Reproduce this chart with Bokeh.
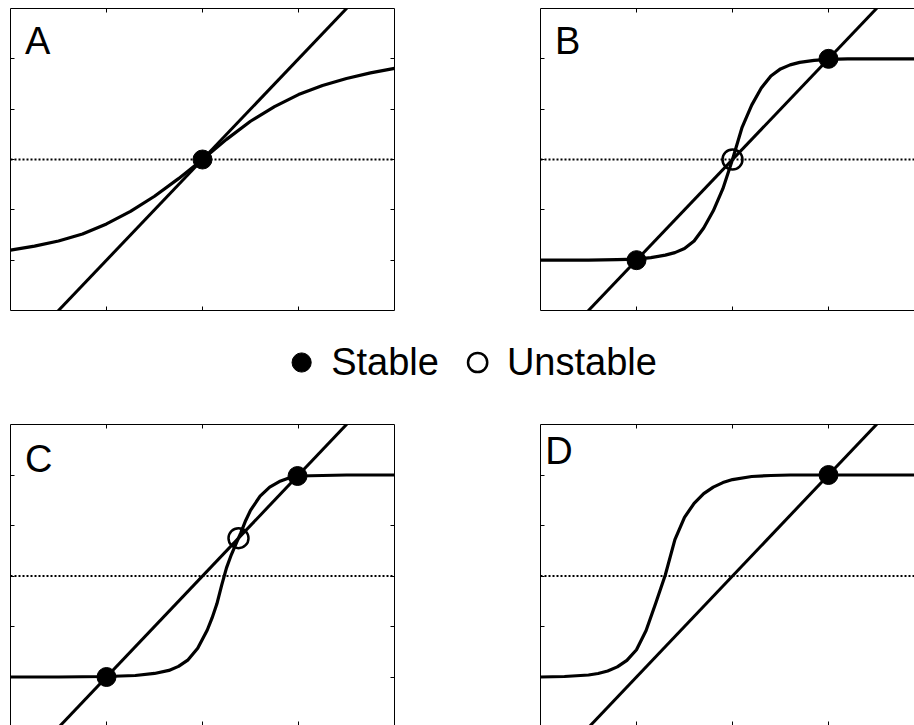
from bokeh.plotting import figure
from bokeh.models import (Range1d, LinearAxis, FixedTicker, Span, Label,
                          Legend, LegendItem, Spacer)
from bokeh.layouts import column, row
from bokeh.embed import file_html
from bokeh.resources import INLINE

# ---------------- data ----------------
X_TICKS = [-1, 0, 1]
Y_TICKS = [-2, -1, 0, 1, 2]
PANEL_LABELS = ["A", "B", "C", "D"]
LEGEND_LABELS = ["Stable", "Unstable"]

# straight line (same in every panel)
LINE_X = [-2.0, 2.0]
LINE_Y = [-4.0, 4.0]

A_X = [-2.0, -1.75, -1.5, -1.25, -1.0, -0.75, -0.5, -0.25, 0.0,
       0.25, 0.5, 0.75, 1.0, 1.25, 1.5, 1.75, 2.0]
A_Y = [-1.80, -1.72, -1.62, -1.48, -1.28, -1.03, -0.73, -0.38, 0.0,
       0.40, 0.76, 1.05, 1.29, 1.47, 1.61, 1.72, 1.81]
A_STABLE_X = [0.0]
A_STABLE_Y = [0.0]

B_X = [-2.0, -1.5, -1.2, -1.0, -0.85, -0.7, -0.6, -0.5, -0.4, -0.3, -0.2, -0.1, 0.0,
       0.1, 0.2, 0.3, 0.4, 0.5, 0.6, 0.7, 0.85, 1.0, 1.2, 1.5, 2.0]
B_Y = [-2.0, -2.0, -1.99, -1.98, -1.95, -1.90, -1.85, -1.77, -1.62, -1.36, -1.02, -0.58, 0.0,
       0.64, 1.08, 1.42, 1.66, 1.80, 1.88, 1.93, 1.97, 1.99, 2.0, 2.0, 2.0]
B_STABLE_X = [-1.0, 1.0]
B_STABLE_Y = [-2.0, 2.0]
B_UNSTABLE_X = [0.0]
B_UNSTABLE_Y = [0.0]

C_X = [-2.0, -1.5, -1.0, -0.7, -0.5, -0.35, -0.25, -0.15, -0.05, 0.05, 0.1, 0.15,
       0.2, 0.25, 0.3, 0.35, 0.4, 0.45, 0.5, 0.6, 0.7, 0.8, 0.9, 1.0, 1.5, 2.0]
C_Y = [-2.0, -2.0, -1.99, -1.97, -1.93, -1.87, -1.79, -1.66, -1.43, -1.07, -0.83, -0.55,
       -0.18, 0.16, 0.42, 0.64, 0.86, 1.10, 1.30, 1.58, 1.76, 1.87, 1.94, 1.98, 2.0, 2.0]
C_STABLE_X = [-1.0, 0.99]
C_STABLE_Y = [-2.0, 1.98]
C_UNSTABLE_X = [0.375]
C_UNSTABLE_Y = [0.75]

D_X = [-2.0, -1.75, -1.5, -1.4, -1.3, -1.2, -1.1, -1.0, -0.9, -0.8, -0.7, -0.6,
       -0.5, -0.4, -0.3, -0.2, -0.1, 0.0, 0.2, 0.4, 0.6, 1.0, 2.0]
D_Y = [-2.0, -1.99, -1.96, -1.93, -1.88, -1.80, -1.67, -1.46, -1.08, -0.54, 0.02, 0.72,
       1.16, 1.44, 1.63, 1.76, 1.85, 1.91, 1.97, 1.99, 2.0, 2.0, 2.0]
D_STABLE_X = [1.0]
D_STABLE_Y = [2.0]

FONT = "Liberation Sans"


def add_axis(p, side, ticks, line_color="black"):
    ax = LinearAxis(ticker=FixedTicker(ticks=ticks, minor_ticks=[]),
                    major_tick_in=4, major_tick_out=0,
                    minor_tick_in=0, minor_tick_out=0,
                    major_label_standoff=0,
                    major_label_text_font_size="0px",
                    major_label_text_color=None,
                    axis_line_color=line_color, axis_line_width=1,
                    major_tick_line_color="black", major_tick_line_width=1)
    p.add_layout(ax, side)


def make_panel(letter, label_pos, cx, cy, stable, unstable, x_end, y_start,
               borders, frame, right_axis, bottom_line):
    bl, br, bt, bb = borders
    fw, fh = frame
    p = figure(width=bl + fw + br, height=bt + fh + bb,
               x_range=Range1d(-2.0, x_end), y_range=Range1d(y_start, 3.0),
               x_axis_location=None, y_axis_location=None,
               toolbar_location=None, output_backend="svg",
               min_border_left=bl, min_border_right=br,
               min_border_top=bt, min_border_bottom=bb)
    p.outline_line_color = None
    p.grid.visible = False
    p.background_fill_color = "white"
    p.border_fill_color = "white"

    add_axis(p, "left", Y_TICKS)
    add_axis(p, "above", X_TICKS)
    add_axis(p, "below", X_TICKS, "black" if bottom_line else None)
    if right_axis:
        add_axis(p, "right", Y_TICKS)

    p.add_layout(Span(location=0, dimension="width", line_color="black",
                      line_width=2, line_dash="2 2", level="underlay"))

    p.line(LINE_X, LINE_Y, line_color="black", line_width=3.0)
    p.line(cx, cy, line_color="black", line_width=3.2, line_join="round")

    if unstable is not None:
        p.scatter(unstable[0], unstable[1], marker="circle", size=20,
                  fill_color=None, line_color="black", line_width=2.5)
    p.scatter(stable[0], stable[1], marker="circle", size=19,
              fill_color="black", line_color="black", line_width=1)

    p.add_layout(Label(x=label_pos[0], y=label_pos[1], text=letter,
                       text_font=FONT, text_font_size="38px",
                       text_color="black", text_align="left",
                       text_baseline="alphabetic"))
    return p


pA = make_panel(PANEL_LABELS[0], (-1.85, 2.36), A_X, A_Y,
                (A_STABLE_X, A_STABLE_Y), None, 2.0, -3.0,
                (10, 1, 8, 1), (384, 302), True, True)
pB = make_panel(PANEL_LABELS[1], (-1.85, 2.36), B_X, B_Y,
                (B_STABLE_X, B_STABLE_Y), (B_UNSTABLE_X, B_UNSTABLE_Y),
                -2.0 + 374 / 96, -3.0, (1, 0, 8, 1), (374, 302), False, True)
pC = make_panel(PANEL_LABELS[2], (-1.85, 2.31), C_X, C_Y,
                (C_STABLE_X, C_STABLE_Y), (C_UNSTABLE_X, C_UNSTABLE_Y),
                2.0, 3.0 - 301 / 50.5, (10, 1, 1, 0), (384, 301), True, False)
pD = make_panel(PANEL_LABELS[3], (-1.95, 2.48), D_X, D_Y,
                (D_STABLE_X, D_STABLE_Y), None,
                -2.0 + 374 / 96, 3.0 - 301 / 50.5, (1, 0, 1, 0), (374, 301), False, False)

# ---------------- legend strip ----------------
NAN = float("nan")
pl = figure(width=914, height=112, x_range=Range1d(0, 1), y_range=Range1d(0, 1),
            x_axis_location=None, y_axis_location=None,
            toolbar_location=None, output_backend="svg",
            min_border_left=20, min_border_right=0,
            min_border_top=0, min_border_bottom=10)
pl.outline_line_color = None
pl.grid.visible = False
r_st = pl.scatter(x=[NAN], y=[NAN], marker="circle", size=19,
                  fill_color="black", line_color="black")
r_un = pl.scatter(x=[NAN], y=[NAN], marker="circle", size=19,
                  fill_color=None, line_color="black", line_width=2.5)
legend = Legend(items=[LegendItem(label=LEGEND_LABELS[0], renderers=[r_st]),
                       LegendItem(label=LEGEND_LABELS[1], renderers=[r_un])],
                orientation="horizontal", location="center",
                border_line_color=None, background_fill_alpha=0,
                glyph_width=48, glyph_height=48, label_standoff=6,
                spacing=14, padding=0, margin=0,
                label_text_font=FONT, label_text_font_size="38px",
                label_text_color="black")
pl.add_layout(legend, "center")

layout = column(row(pA, Spacer(width=144, height=311), pB),
                pl,
                row(pC, Spacer(width=144, height=302), pD))

with open("out.html", "w") as f:
    f.write(file_html(layout, INLINE, "Stability"))
